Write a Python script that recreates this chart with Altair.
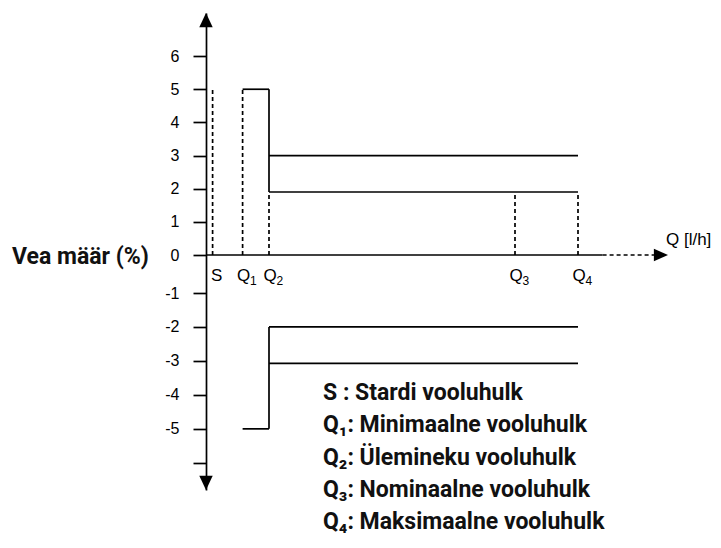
import altair as alt
import pandas as pd

# Flow-rate markers along the Q axis (position units along the axis)
q_letters = ["S", "Q", "Q", "Q", "Q"]
q_subs = ["", "1", "2", "3", "4"]
q_pos = [1.1, 6.1, 10.5, 51.5, 62.0]

# Maximum permissible error limits (%)
low_upper = 5.0
low_lower = -5.0
high_outer_upper = 3.0
high_inner_upper = 1.9
high_inner_lower = -2.0
high_outer_lower = -3.07

y_ticks = list(range(-6, 7))
legend_lines = [
    "S : Stardi vooluhulk",
    "Q₁: Minimaalne vooluhulk",
    "Q₂: Ülemineku vooluhulk",
    "Q₃: Nominaalne vooluhulk",
    "Q₄: Maksimaalne vooluhulk",
]

# axis extents (data units)
x_solid_end = 66.1
x_arrow_base = 75.0
x_end = 77.0
y_top = 7.3
y_bottom = -6.8

S, Q1, Q2, Q3, Q4 = q_pos

solid = pd.DataFrame([
    dict(x=Q1, x2=Q2, y=low_upper, y2=low_upper),
    dict(x=Q2, x2=Q2, y=low_upper, y2=high_inner_upper),
    dict(x=Q2, x2=Q4, y=high_outer_upper, y2=high_outer_upper),
    dict(x=Q2, x2=Q4, y=high_inner_upper, y2=high_inner_upper),
    dict(x=Q1, x2=Q2, y=low_lower, y2=low_lower),
    dict(x=Q2, x2=Q2, y=low_lower, y2=high_inner_lower),
    dict(x=Q2, x2=Q4, y=high_inner_lower, y2=high_inner_lower),
    dict(x=Q2, x2=Q4, y=high_outer_lower, y2=high_outer_lower),
    dict(x=0, x2=x_solid_end, y=0, y2=0),
])

dashed = pd.DataFrame([
    dict(x=S, x2=S, y=0, y2=low_upper),
    dict(x=Q1, x2=Q1, y=0, y2=low_upper),
    dict(x=Q2, x2=Q2, y=0, y2=high_inner_upper),
    dict(x=Q3, x2=Q3, y=0, y2=high_inner_upper),
    dict(x=Q4, x2=Q4, y=0, y2=high_inner_upper),
    dict(x=x_solid_end, x2=x_arrow_base, y=0, y2=0),
])

arrows = pd.DataFrame([
    dict(x=0, y=y_top, shape="M0,0L0.95,2L-0.95,2Z"),
    dict(x=0, y=y_bottom, shape="M0,0L0.95,-2L-0.95,-2Z"),
    dict(x=x_end, y=0, shape="M0,0L-2,0.9L-2,-0.9Z"),
])

qlabels = pd.DataFrame(dict(letter=q_letters, sub=q_subs, x=q_pos, y=[0.0] * 5))
anchor = pd.DataFrame(dict(x=[0.0], y=[0.0]))

xs = alt.Scale(domain=[0, x_end], nice=False, zero=False)
ys = alt.Scale(domain=[y_bottom, -1, 0, y_top], range=[477, 280, 242, 0],
               nice=False, zero=False)

BLACK = "#000000"
SW = 1.7

yaxis = alt.Axis(
    values=y_ticks,
    labelExpr="datum.value == -6 ? '' : '' + datum.value",
    tickSize=13, tickWidth=SW, tickColor=BLACK,
    domainColor=BLACK, domainWidth=SW,
    labelFont="Liberation Sans", labelFontSize=16, labelColor=BLACK,
    labelPadding=14, title=None, grid=False, labelOverlap=False,
    labelBound=False, labelFlush=False,
)

X = lambda: alt.X("x:Q", scale=xs, axis=None)
Y = lambda: alt.Y("y:Q", scale=ys, axis=yaxis)

solid_layer = alt.Chart(solid).mark_rule(color=BLACK, strokeWidth=SW).encode(
    x=X(), x2="x2:Q", y=Y(), y2="y2:Q",
)

dashed_layer = alt.Chart(dashed).mark_rule(
    color=BLACK, strokeWidth=SW, strokeDash=[4, 3]
).encode(
    x=X(), x2="x2:Q", y=Y(), y2="y2:Q",
)

arrow_layer = alt.Chart(arrows).mark_point(
    filled=True, size=200, color=BLACK, opacity=1, strokeWidth=0
).encode(
    x=X(), y=Y(),
    shape=alt.Shape("shape:N", scale=None, legend=None),
)

s_label = alt.Chart(qlabels).transform_filter("datum.sub == ''").mark_text(
    align="center", baseline="middle", dx=4, dy=21,
    font="Liberation Sans", fontSize=17, color=BLACK,
).encode(x=X(), y=Y(), text="letter:N")

q_label = alt.Chart(qlabels).transform_filter("datum.sub != ''").mark_text(
    align="center", baseline="middle", dx=1, dy=21,
    font="Liberation Sans", fontSize=17, color=BLACK,
).encode(x=X(), y=Y(), text="letter:N")

q_sub = alt.Chart(qlabels).transform_filter("datum.sub != ''").mark_text(
    align="left", baseline="middle", dx=7.5, dy=26,
    font="Liberation Sans", fontSize=12, color=BLACK,
).encode(x=X(), y=Y(), text="sub:N")

qaxis_title = alt.Chart(anchor).mark_text(
    align="left", baseline="middle", dy=-15, text="Q [l/h]",
    font="Liberation Sans", fontSize=17, color=BLACK,
).encode(x=alt.value(460), y=Y())

yaxis_title = alt.Chart(anchor).mark_text(
    align="left", baseline="middle", dy=2, text="Vea määr (%)",
    font="Roboto", fontSize=23, fontWeight="bold", color="#111111",
).encode(x=alt.value(-194), y=Y())

legend_layers = [
    alt.Chart(anchor).mark_text(
        align="left", baseline="middle", text=line,
        font="Roboto", fontSize=23, fontWeight="bold", color="#111111",
    ).encode(x=alt.value(117), y=alt.value(380 + 32.3 * i))
    for i, line in enumerate(legend_lines)
]

chart = alt.layer(
    solid_layer, dashed_layer, arrow_layer,
    s_label, q_label, q_sub, qaxis_title, yaxis_title, *legend_layers,
).properties(
    width=462, height=477,
    autosize=alt.AutoSizeParams(type="none"),
    padding={"left": 198, "top": 5, "right": 45, "bottom": 45},
).configure_view(stroke=None)

chart.save("out.html", embed_options={"renderer": "svg", "actions": False})
